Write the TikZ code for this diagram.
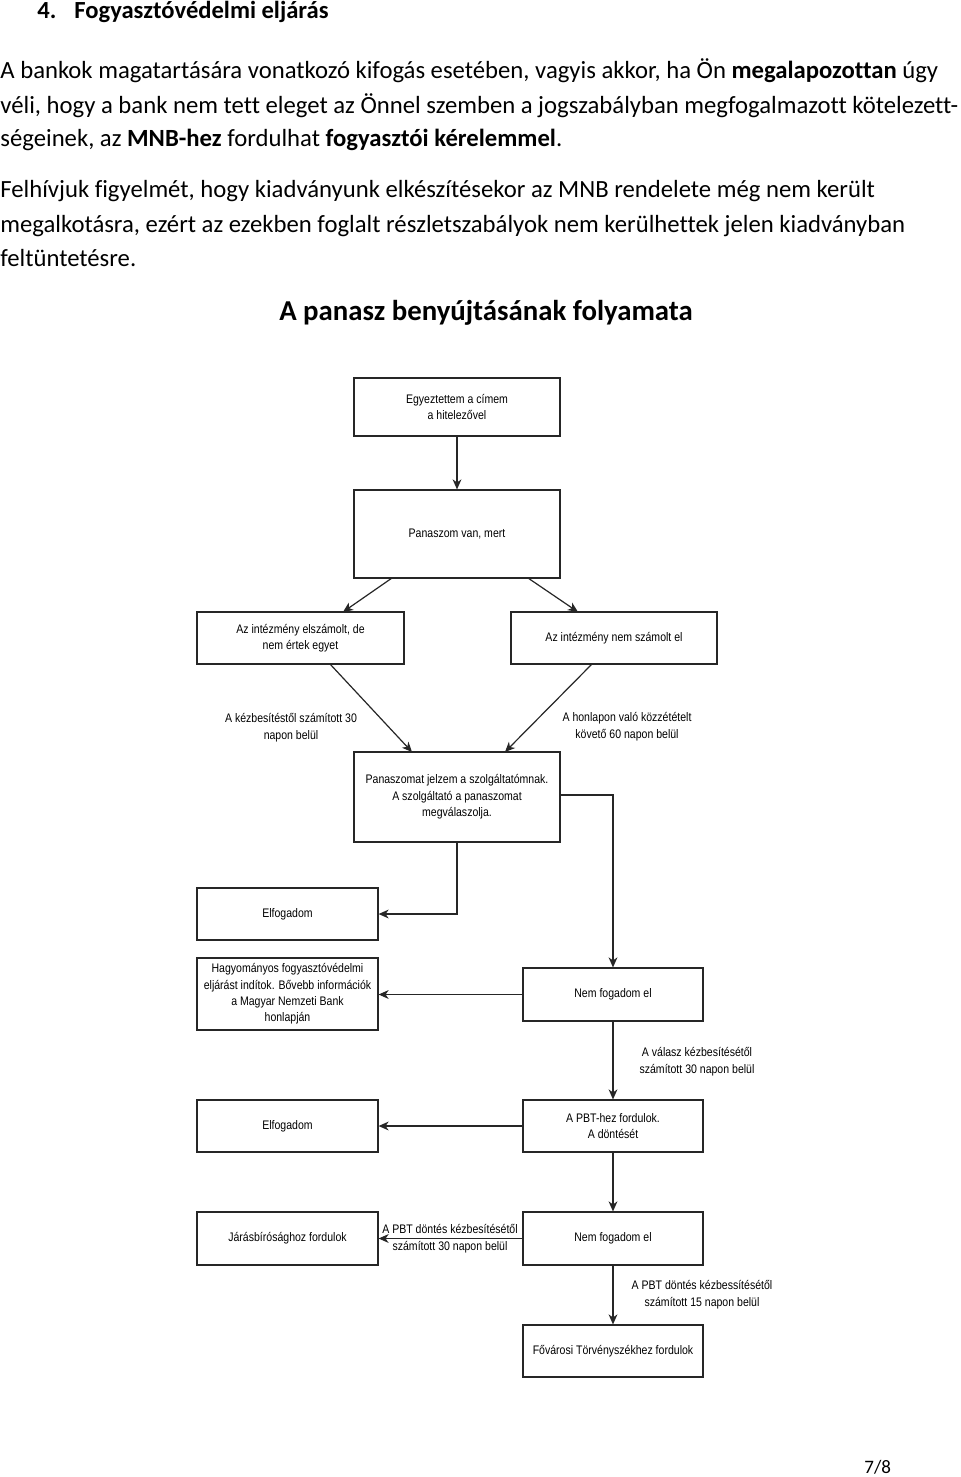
\documentclass[tikz,border=0pt]{standalone}
\usepackage{fontspec}
\setmainfont{Carlito}[Ligatures=NoCommon]
\newfontfamily\chartfont{Liberation Sans}[FakeStretch=0.85]
\usetikzlibrary{arrows.meta}
\begin{document}
\begin{tikzpicture}[x=0.5pt,y=-0.5pt,
  box/.style={draw=black!85, line width=0.6pt, inner sep=0pt, align=center,
    font=\chartfont\fontsize{6.2}{8.2}\selectfont},
  conn/.style={draw=black!85, line width=0.6pt, -{Stealth[length=5pt,width=4.4pt,inset=1.5pt]}},
  lbl/.style={font=\chartfont\fontsize{6.2}{8.4}\selectfont, align=center, inner sep=0pt},
  body/.style={anchor=base west, inner sep=0pt, font=\fontsize{12.35}{14}\selectfont}]
\useasboundingbox[fill=white] (0,0) rectangle (960,1477);

% header text
\node[body, font=\bfseries\fontsize{12.3}{14}\selectfont] (hnum) at (37,19) {4.};
\node[body, font=\bfseries\fontsize{12.3}{14}\selectfont] (htxt) at (74,19) {Fogyasztóvédelmi eljárás};
\node[body] (l1) at (0,79) {A bankok magatartására vonatkozó kifogás esetében, vagyis akkor, ha Ön \textbf{megalapozottan} úgy};
\node[body] (l2) at (0,113) {véli, hogy a bank nem tett eleget az Önnel szemben a jogszabályban megfogalmazott kötelezett-};
\node[body] (l3) at (0,147) {ségeinek, az \textbf{MNB-hez} fordulhat \textbf{fogyasztói kérelemmel}.};
\node[body] (l4) at (0,198) {Felhívjuk figyelmét, hogy kiadványunk elkészítésekor az MNB rendelete még nem került};
\node[body] (l5) at (0,232) {megalkotásra, ezért az ezekben foglalt részletszabályok nem kerülhettek jelen kiadványban};
\node[body] (l6) at (0,266) {feltüntetésre.};
\node[anchor=base, inner sep=0pt, font=\bfseries\fontsize{14.4}{16}\selectfont] (title) at (486,320) {A panasz benyújtásának folyamata};
\node[body, font=\fontsize{9.5}{11}\selectfont] (pg) at (864,1473) {7/8};

% boxes
\node[box, minimum width=103pt, minimum height=29pt] (b1) at (457,407) {Egyeztettem a címem\\a hitelezővel};
\node[box, minimum width=103pt, minimum height=44pt] (b2) at (457,534) {Panaszom van, mert};
\node[box, minimum width=103.5pt, minimum height=26pt] (b3) at (300.5,638) {Az intézmény elszámolt, de\\nem értek egyet};
\node[box, minimum width=103pt, minimum height=26pt] (b4) at (614,638) {Az intézmény nem számolt el};
\node[box, minimum width=103pt, minimum height=45pt] (b5) at (457,797) {Panaszomat jelzem a szolgáltatómnak.\\A szolgáltató a panaszomat\\megválaszolja.};
\node[box, minimum width=90.5pt, minimum height=26pt] (b6) at (287.5,914) {Elfogadom};
\node[box, minimum width=90.5pt, minimum height=36pt] (b7) at (287.5,994) {Hagyományos fogyasztóvédelmi\\eljárást indítok. Bővebb információk\\a Magyar Nemzeti Bank\\honlapján};
\node[box, minimum width=90pt, minimum height=26.5pt] (b8) at (613,994.5) {Nem fogadom el};
\node[box, minimum width=90pt, minimum height=26pt] (b9) at (613,1126) {A PBT-hez fordulok.\\A döntését};
\node[box, minimum width=90.5pt, minimum height=26pt] (b10) at (287.5,1126) {Elfogadom};
\node[box, minimum width=90pt, minimum height=26.5pt] (b11) at (613,1238.5) {Nem fogadom el};
\node[box, minimum width=90.5pt, minimum height=26.5pt] (b12) at (287.5,1238.5) {Járásbírósághoz fordulok};
\node[box, minimum width=90pt, minimum height=26pt] (b13) at (613,1351) {Fővárosi Törvényszékhez fordulok};

% connector points
\coordinate (p2a) at (392,578);
\coordinate (p3a) at (343,612);
\coordinate (p2b) at (528,578);
\coordinate (p4a) at (578,612);
\coordinate (p3b) at (330,664);
\coordinate (p5a) at (412,752);
\coordinate (p4b) at (592,664);
\coordinate (p5b) at (505,752);
\coordinate (p5r) at (560,795);

% connectors
\draw[conn] (b1) -- (b2);
\draw[conn] (p2a) -- (p3a);
\draw[conn] (p2b) -- (p4a);
\draw[conn] (p3b) -- (p5a);
\draw[conn] (p4b) -- (p5b);
\draw[conn] (p5r) -| (b8.north);
\draw[conn] (b5.south) |- (b6.east);
\draw[conn] (b8.west) -- (b8.west -| b7.east);
\draw[conn] (b8) -- (b9);
\draw[conn] (b9) -- (b10);
\draw[conn] (b9) -- (b11);
\draw[conn] (b11) -- (b12);
\draw[conn] (b11) -- (b13);

% labels
\node[lbl] (t1) at (291,728) {A kézbesítéstől számított 30\\napon belül};
\node[lbl] (t2) at (627,727) {A honlapon való közzétételt\\követő 60 napon belül};
\node[lbl] (t3) at (697,1062) {A válasz kézbesítésétől\\számított 30 napon belül};
\node[lbl] (t4) at (450,1239) {A PBT döntés kézbesítésétől\\számított 30 napon belül};
\node[lbl] (t5) at (702,1295) {A PBT döntés kézbessítésétől\\számított 15 napon belül};
\end{tikzpicture}
\end{document}
